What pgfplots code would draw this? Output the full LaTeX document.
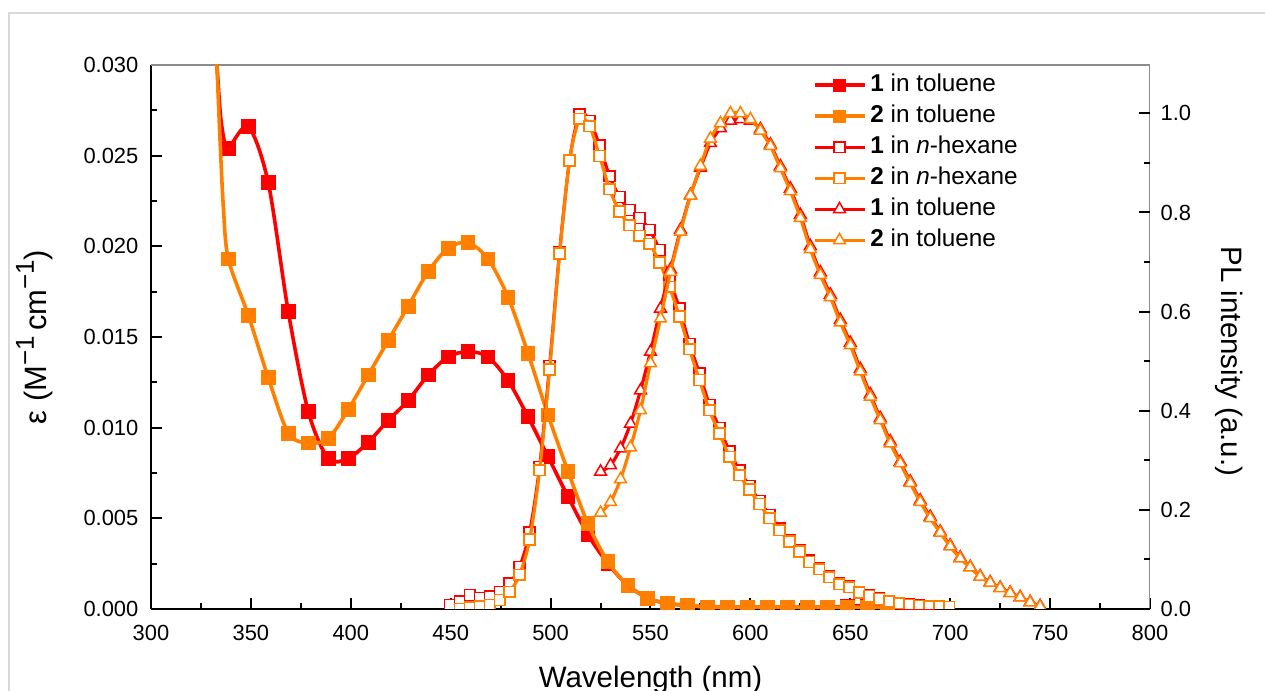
\documentclass[border=0pt]{standalone}
\usepackage{fontspec}
\setmainfont{Liberation Sans}
\usepackage{pgfplots}
\usepackage{pgfplotstable}
\pgfplotsset{compat=1.18}
\definecolor{cred}{RGB}{255,0,0}
\definecolor{corange}{RGB}{255,128,0}

% Absorption of 1 in toluene (first three rows only shape the steep rise, unmarked)
\pgfplotstableread{
x y
332.0 0.0320
333.0 0.0300
334.8 0.0272
336.7 0.0258
338.7 0.0254
348.7 0.0266
358.7 0.0235
368.7 0.0164
378.7 0.0109
388.7 0.0083
398.7 0.0083
408.7 0.0092
418.7 0.0104
428.7 0.0115
438.7 0.0129
448.7 0.0139
458.7 0.0142
468.7 0.0139
478.7 0.0126
488.7 0.0106
498.7 0.0084
508.7 0.0062
518.7 0.0041
528.7 0.0025
538.7 0.0013
548.7 0.0006
558.7 0.0003
568.7 0.0002
578.7 0.0001
588.7 0.0001
598.7 0.0001
608.7 0.0001
618.7 0.0001
628.7 0.0001
638.7 0.0001
648.7 0.00015
658.7 0.0002
668.7 0.0001
678.7 0.00005
688.7 0.00005
}\absRed

% Absorption of 2 in toluene
\pgfplotstableread{
x y
332.2 0.0320
333.0 0.0300
334.5 0.0260
336.2 0.0222
338.7 0.0193
348.7 0.0162
358.7 0.01275
368.7 0.0097
378.7 0.00915
388.7 0.0094
398.7 0.0110
408.7 0.0129
418.7 0.0148
428.7 0.0167
438.7 0.0186
448.7 0.0199
458.7 0.0202
468.7 0.0193
478.7 0.0172
488.7 0.0141
498.7 0.0107
508.7 0.0076
518.7 0.0047
528.7 0.0026
538.7 0.0013
548.7 0.0006
558.7 0.0003
568.7 0.0002
578.7 0.0001
588.7 0.0001
598.7 0.0001
608.7 0.0001
618.7 0.0001
628.7 0.0001
638.7 0.0001
648.7 0.0001
658.7 0.0001
668.7 0.0001
}\absOrange

% PL of 1 in n-hexane
\pgfplotstableread{
x y
449.5 0.008
454.5 0.015
459.5 0.028
464.5 0.022
469.5 0.025
474.5 0.035
479.5 0.052
484.5 0.085
489.5 0.155
494.5 0.287
499.5 0.490
504.5 0.720
509.5 0.905
514.5 0.998
519.5 0.985
524.5 0.935
529.5 0.873
534.5 0.831
539.5 0.805
544.5 0.789
549.5 0.765
554.5 0.724
559.5 0.665
564.5 0.606
569.5 0.535
574.5 0.475
579.5 0.412
584.5 0.365
589.5 0.318
594.5 0.280
599.5 0.248
604.5 0.218
609.5 0.190
614.5 0.163
619.5 0.139
624.5 0.118
629.5 0.098
634.5 0.082
639.5 0.067
644.5 0.053
649.5 0.046
654.5 0.035
659.5 0.027
664.5 0.021
669.5 0.016
674.5 0.012
679.5 0.009
684.5 0.007
689.5 0.005
694.5 0.005
699.5 0.004
}\hexRed

% PL of 2 in n-hexane
\pgfplotstableread{
x y
454.5 0.000
459.5 0.003
464.5 0.005
469.5 0.008
474.5 0.018
479.5 0.035
484.5 0.069
489.5 0.140
494.5 0.280
499.5 0.483
504.5 0.717
509.5 0.905
514.5 0.989
519.5 0.974
524.5 0.914
529.5 0.847
534.5 0.802
539.5 0.774
544.5 0.753
549.5 0.737
554.5 0.699
559.5 0.650
564.5 0.590
569.5 0.524
574.5 0.462
579.5 0.401
584.5 0.354
589.5 0.307
594.5 0.270
599.5 0.241
604.5 0.212
609.5 0.183
614.5 0.159
619.5 0.136
624.5 0.116
629.5 0.095
634.5 0.080
639.5 0.064
644.5 0.050
649.5 0.044
654.5 0.033
659.5 0.026
664.5 0.020
669.5 0.015
674.5 0.011
679.5 0.008
684.5 0.006
689.5 0.005
694.5 0.005
699.5 0.004
}\hexOrange

% PL of 1 in toluene
\pgfplotstableread{
x y
525 0.277
530 0.290
535 0.324
540 0.374
545 0.441
550 0.519
555 0.606
560 0.685
565 0.765
570 0.835
575 0.890
580 0.940
585 0.970
590 0.985
595 0.988
600 0.985
605 0.968
610 0.937
615 0.893
620 0.848
625 0.795
630 0.732
635 0.679
640 0.634
645 0.583
650 0.537
655 0.484
660 0.433
665 0.385
670 0.338
675 0.297
680 0.257
685 0.219
690 0.186
695 0.156
700 0.128
705 0.104
710 0.085
715 0.066
720 0.054
725 0.043
730 0.033
735 0.024
740 0.014
745 0.006
}\tolRed

% PL of 2 in toluene
\pgfplotstableread{
x y
525 0.194
530 0.216
535 0.262
540 0.326
545 0.401
550 0.496
555 0.586
560 0.680
565 0.761
570 0.834
575 0.894
580 0.949
585 0.980
590 1.000
595 1.000
600 0.988
605 0.965
610 0.934
615 0.889
620 0.843
625 0.789
630 0.726
635 0.674
640 0.629
645 0.578
650 0.532
655 0.479
660 0.428
665 0.381
670 0.334
675 0.294
680 0.254
685 0.216
690 0.183
695 0.154
700 0.126
705 0.102
710 0.084
715 0.065
720 0.053
725 0.042
730 0.032
735 0.023
740 0.013
745 0.005
}\tolOrange

\newcommand{\sups}[1]{\raisebox{0.40em}{\fontsize{13}{14}\selectfont #1}}

\pgfplotsset{
  common/.style={
    scale only axis, width=499.5bp, height=272bp,
    at={(0,0)}, anchor=south west,
    xmin=300, xmax=800,
    tick align=inside,
    every non boxed x axis/.append style={x axis line style={-}, xtick align=inside},
    every non boxed y axis/.append style={y axis line style={-}, ytick align=inside},
    major tick length=5.5bp, minor tick length=3bp,
    tick style={black, line width=1bp},
    tick label style={font=\fontsize{11}{13}\selectfont},
    /pgf/number format/assume math mode=true,
    label style={font=\fontsize{14.8}{17}\selectfont},
    clip marker paths=true,
  },
}

\begin{document}
\begin{tikzpicture}
\useasboundingbox (-75.5bp,-41bp) rectangle (557bp,304.5bp);
\draw[black!15, line width=0.7bp] (-71bp,-60bp) -- (-71bp,298bp) -- (600bp,298bp);

% absorption, left axis
\begin{axis}[common,
  axis x line*=bottom, axis y line*=left,
  axis line style={line width=1.25bp, black},
  ymin=0, ymax=0.030,
  ytick={0,0.005,0.010,0.015,0.020,0.025,0.030}, minor y tick num=1,
  xtick={300,350,400,450,500,550,600,650,700,750,800}, minor x tick num=1,
  scaled y ticks=false,
  yticklabel style={/pgf/number format/.cd, fixed, fixed zerofill, precision=3, /tikz/.cd, xshift=-2.8bp},
  xticklabel style={yshift=-4.5bp},
  xlabel={Wavelength (nm)},
  ylabel={ε (M\sups{−1}\,cm\sups{−1})},
  xlabel style={at={(axis description cs:0.5,0)}, anchor=base, yshift=-39bp},
  ylabel style={at={(axis description cs:-0.105,0.5)}, anchor=base,
    font=\fontsize{15.5}{18}\selectfont},
]
\draw[black!45, line width=0.6bp] (rel axis cs:0,1) -- (rel axis cs:1,1) -- (rel axis cs:1,0);
\addplot[cred, line width=1.8bp, smooth, mark=square*, mark size=2.8bp,
  mark phase=4, mark options={fill=cred}] table {\absRed};
\addplot[corange, line width=1.8bp, smooth, mark=square*, mark size=2.8bp,
  mark phase=4, mark options={fill=corange}] table {\absOrange};
\end{axis}

% photoluminescence, right axis
\begin{axis}[common,
  axis x line=none, axis y line*=right,
  y axis line style={draw=none},
  ymin=0, ymax=1.0975,
  ytick={0,0.2,0.4,0.6,0.8,1.0}, minor y tick num=1,
  yticklabel style={/pgf/number format/.cd, fixed, fixed zerofill, precision=1, /tikz/.cd, xshift=1.8bp},
  ylabel={PL intensity (a.u.)},
  ylabel style={at={(axis description cs:1.072,0.455)}, anchor=base, rotate=-180},
  legend cell align=left,
  legend style={at={(rel axis cs:0.662,0.992)}, anchor=north west, draw=none, fill=none,
    font=\fontsize{12.2}{14}\selectfont, inner sep=0pt, row sep=0pt,
    nodes={inner sep=2bp, text height=8.8bp, text depth=2.7bp}},
  legend image code/.code={\draw[#1, mark repeat=2, mark phase=2]
    plot coordinates {(0bp,0bp) (12.5bp,0bp) (25bp,0bp)};},
]
\addlegendimage{cred, line width=1.8bp, mark=square*, mark size=2.4bp, mark options={fill=cred}}
\addlegendentry{\textbf{1} in toluene}
\addlegendimage{corange, line width=1.8bp, mark=square*, mark size=2.4bp, mark options={fill=corange}}
\addlegendentry{\textbf{2} in toluene}
\addplot[cred, line width=1.6bp, smooth, mark=square*, mark size=2.7bp,
  mark options={fill=white, line width=0.75bp}] table {\hexRed};
\addlegendentry{\textbf{1} in \textit{n}-hexane}
\addplot[corange, line width=1.6bp, smooth, mark=square*, mark size=2.7bp,
  mark options={fill=white, line width=0.75bp}] table {\hexOrange};
\addlegendentry{\textbf{2} in \textit{n}-hexane}
\addplot[cred, line width=1.6bp, smooth, mark=triangle*, mark size=3.4bp,
  mark options={fill=white, line width=0.75bp}] table {\tolRed};
\addlegendentry{\textbf{1} in toluene}
\addplot[corange, line width=1.6bp, smooth, mark=triangle*, mark size=3.4bp,
  mark options={fill=white, line width=0.75bp}] table {\tolOrange};
\addlegendentry{\textbf{2} in toluene}
\end{axis}
\end{tikzpicture}
\end{document}
